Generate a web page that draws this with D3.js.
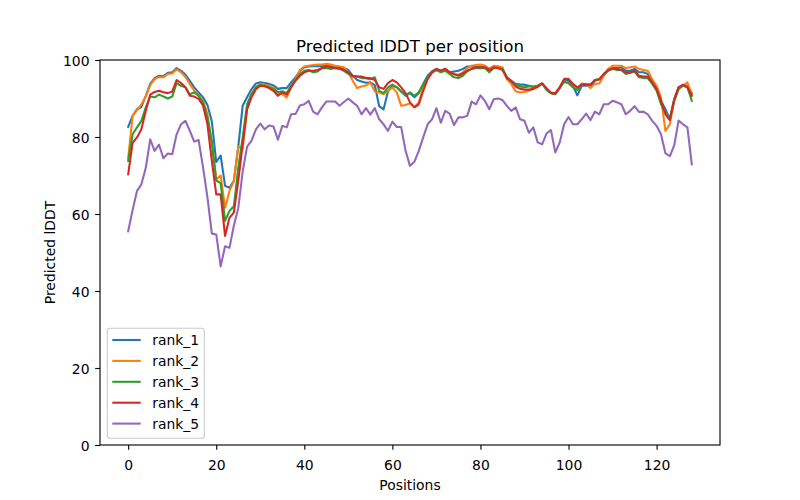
<!DOCTYPE html>
<html>
<head>
<meta charset="utf-8">
<script src="https://cdn.jsdelivr.net/npm/d3@7"></script>
<style>
  body { margin: 0; background: #fff; }
  svg { font-family: "DejaVu Sans", sans-serif; }
</style>
</head>
<body>
<svg width="800" height="500"></svg>
<script>
// predicted lDDT per residue, one array per model rank (positions 0..128)
var rank1 = [
  82.6, 85.5, 87.2, 87.8, 90.7, 93.8, 95.3, 95.9, 95.8, 96.7, 96.8, 97.9, 97.2, 96.2, 94.6,
  92.9, 91.6, 90.3, 88.3, 84.0, 73.5, 75.2, 67.3, 66.8, 68.6, 77.5, 88.1, 90.3, 92.4, 93.9, 94.2, 94.0,
  93.8, 93.4, 92.5, 92.7, 92.7, 94.2, 95.5, 97.2, 98.1, 98.3, 98.4, 98.4, 98.4, 98.5, 98.4, 98.3,
  98.1, 97.9, 97.4, 95.9, 94.8, 94.4, 94.1, 94.2, 93.5, 88.0, 87.2, 91.8, 93.3, 92.9, 91.8, 90.7, 91.4,
  90.3, 91.4, 93.8, 95.9, 97.1, 97.7, 97.2, 97.7, 96.8, 97.0, 97.2, 97.7, 98.3, 98.3, 98.5, 98.5,
  98.5, 97.7, 98.3, 98.3, 97.7, 95.5, 94.6, 93.8, 93.6, 93.6, 93.3, 93.0, 93.3, 93.9, 92.5, 91.4,
  91.1, 92.7, 94.8, 94.6, 93.3, 90.8, 93.3, 93.3, 93.3, 94.6, 95.0, 96.2, 97.4, 97.9, 97.9, 98.1,
  97.2, 97.2, 97.7, 96.8, 96.8, 96.4, 94.6, 92.9, 89.4, 87.2, 84.6, 89.8, 92.9, 93.3, 93.3, 91.4
];
var rank2 = [
  74.5, 85.5, 87.0, 88.5, 90.5, 93.5, 95.0, 95.6, 95.5, 96.4, 96.5, 97.6, 96.8, 95.6, 93.8,
  92.0, 90.7, 89.4, 86.0, 78.1, 69.0, 70.0, 61.6, 66.0, 68.6, 77.5, 77.0, 87.5, 91.0, 93.0, 93.8, 93.6,
  93.3, 92.9, 91.6, 91.1, 90.3, 92.9, 95.0, 97.4, 98.3, 98.5, 98.7, 98.8, 98.8, 99.0, 98.8, 98.5,
  98.3, 98.1, 96.8, 94.6, 92.7, 93.1, 93.4, 94.2, 91.8, 91.6, 91.1, 92.0, 92.9, 91.6, 88.1, 88.3, 88.8,
  87.8, 89.0, 92.9, 95.3, 96.8, 97.4, 97.2, 97.7, 96.8, 96.2, 96.2, 96.8, 97.9, 98.5, 98.7, 98.8,
  98.5, 97.7, 98.5, 98.3, 98.1, 95.0, 93.8, 91.8, 91.6, 91.7, 92.0, 92.5, 92.9, 93.9, 92.5, 91.6,
  91.2, 92.9, 94.4, 93.9, 92.9, 92.5, 93.9, 93.7, 92.7, 93.8, 93.9, 95.9, 97.7, 98.5, 98.5, 98.5,
  97.9, 98.1, 98.3, 97.7, 97.4, 97.2, 95.0, 93.3, 90.3, 81.6, 83.3, 89.4, 92.9, 93.3, 94.2, 91.1
];
var rank3 = [
  73.8, 80.7, 82.5, 84.2, 87.7, 90.5, 90.3, 91.0, 90.5, 90.0, 90.5, 94.0, 93.3, 92.9, 91.1,
  91.6, 90.7, 89.0, 85.0, 79.0, 68.7, 68.0, 58.2, 60.8, 62.0, 72.0, 79.9, 88.5, 91.1, 92.9, 93.6, 93.3,
  92.9, 92.5, 91.6, 91.9, 91.4, 93.3, 94.8, 96.4, 97.2, 97.4, 96.8, 97.0, 97.9, 97.9, 97.7, 97.9,
  97.7, 97.2, 96.4, 95.7, 95.7, 95.3, 95.3, 95.0, 95.5, 92.0, 91.4, 92.9, 93.6, 92.9, 91.8, 90.9, 91.6,
  90.7, 91.6, 93.6, 95.3, 96.8, 97.4, 96.8, 97.2, 96.4, 95.5, 95.3, 95.9, 97.1, 97.7, 97.9, 97.9,
  97.9, 96.8, 97.9, 97.9, 97.7, 95.5, 94.4, 93.6, 93.1, 92.9, 93.1, 93.1, 93.3, 93.9, 92.2, 91.4,
  91.1, 92.7, 94.3, 94.1, 92.9, 92.2, 93.6, 93.6, 93.6, 94.8, 95.0, 96.2, 97.2, 97.7, 97.4, 97.4,
  96.4, 96.6, 97.0, 95.5, 95.3, 95.3, 93.8, 92.0, 88.5, 86.4, 84.6, 89.4, 92.4, 93.3, 92.9, 89.4
];
var rank4 = [
  70.3, 78.5, 79.9, 82.0, 86.8, 91.0, 91.7, 92.0, 91.6, 91.4, 91.8, 94.8, 94.0, 92.9, 90.7,
  90.5, 89.9, 88.2, 83.3, 73.8, 65.1, 65.1, 54.3, 59.0, 60.4, 68.6, 78.1, 87.2, 90.3, 92.4, 93.3, 93.2,
  92.7, 92.0, 90.7, 91.6, 91.0, 92.9, 94.6, 95.9, 96.8, 97.2, 97.2, 97.4, 97.9, 98.3, 98.1, 97.9,
  97.9, 97.4, 96.8, 95.9, 95.7, 95.7, 95.3, 95.3, 94.8, 92.9, 92.5, 94.0, 94.8, 94.2, 92.9, 91.4, 89.0,
  87.7, 88.5, 92.0, 95.0, 96.8, 97.7, 97.2, 97.7, 96.8, 96.4, 95.9, 96.5, 97.2, 97.7, 98.1, 98.1,
  98.1, 97.4, 98.1, 97.9, 97.4, 95.3, 94.6, 93.1, 92.5, 92.3, 92.3, 92.5, 93.1, 93.9, 92.7, 91.4,
  91.4, 92.9, 95.1, 95.1, 93.8, 92.9, 93.6, 93.6, 93.6, 94.8, 95.0, 96.4, 97.4, 97.7, 97.7, 97.4,
  96.8, 96.8, 97.2, 95.9, 95.7, 95.7, 94.2, 92.5, 89.4, 85.9, 84.4, 89.8, 92.9, 93.6, 92.9, 90.7
];
var rank5 = [
  55.5, 61.0, 66.0, 67.7, 72.0, 79.4, 76.4, 78.0, 74.5, 75.7, 75.5, 80.7, 83.3, 84.2, 81.6,
  78.8, 79.2, 72.1, 64.3, 54.9, 54.7, 46.4, 51.6, 51.2, 57.0, 61.5, 71.0, 77.5, 79.0, 82.0, 83.5, 82.0,
  83.0, 82.7, 79.3, 82.9, 82.5, 85.9, 86.0, 88.2, 88.5, 89.4, 86.6, 85.9, 87.7, 89.2, 89.2, 89.2,
  88.1, 89.1, 90.0, 89.0, 88.1, 85.9, 87.5, 85.8, 87.5, 84.6, 83.3, 81.6, 84.0, 82.6, 82.6, 76.4, 72.5,
  73.6, 76.4, 79.9, 83.3, 84.6, 87.5, 83.7, 86.8, 86.1, 83.1, 85.1, 85.1, 85.5, 89.2, 88.5, 90.8,
  89.4, 87.2, 89.8, 90.0, 89.6, 88.1, 86.8, 87.7, 84.6, 84.2, 81.1, 82.5, 78.6, 78.1, 80.9, 81.8,
  76.0, 78.6, 83.3, 85.2, 83.3, 83.3, 84.6, 86.1, 84.4, 86.6, 85.9, 88.5, 88.5, 89.4, 89.0, 88.5,
  85.9, 86.8, 88.0, 86.5, 86.6, 85.9, 84.2, 82.9, 80.7, 75.8, 75.0, 77.8, 84.3, 83.3, 82.5, 72.9
];

var seriesNames = ["rank_1", "rank_2", "rank_3", "rank_4", "rank_5"];
var seriesValues = [rank1, rank2, rank3, rank4, rank5];
var seriesColors = ["#1f77b4", "#ff7f0e", "#2ca02c", "#d62728", "#9467bd"];
var xTicks = [0, 20, 40, 60, 80, 100, 120];
var yTicks = [0, 20, 40, 60, 80, 100];

function main() {
    var svg = d3.select("svg");
    var pLeft = 100, pRight = 720, pTop = 60, pBottom = 445;
    var n = rank1.length - 1;

    // matplotlib-style 5% x margin, y fixed 0..100
    var x = d3.scaleLinear().domain([-0.05 * n, 1.05 * n]).range([pLeft, pRight]);
    var y = d3.scaleLinear().domain([0, 100]).range([pBottom, pTop]);

    svg.append("defs").append("clipPath").attr("id", "plotclip")
        .append("rect")
        .attr("x", pLeft).attr("y", pTop)
        .attr("width", pRight - pLeft).attr("height", pBottom - pTop);

    var line = d3.line()
        .x(function(d, i) { return x(i); })
        .y(function(d) { return y(d); });

    var plot = svg.append("g").attr("clip-path", "url(#plotclip)");
    seriesValues.forEach(function(vals, k) {
        plot.append("path")
            .datum(vals)
            .attr("fill", "none")
            .attr("stroke", seriesColors[k])
            .attr("stroke-width", 2.08)
            .attr("stroke-linejoin", "round")
            .attr("stroke-linecap", "square")
            .attr("d", line);
    });

    // axes
    var xAxis = svg.append("g")
        .attr("transform", "translate(0," + pBottom + ")")
        .call(d3.axisBottom(x).tickValues(xTicks).tickSize(4.86).tickSizeOuter(0));
    xAxis.select(".domain").remove();
    xAxis.selectAll(".tick line").attr("stroke", "#000").attr("stroke-width", 1.11);
    xAxis.selectAll(".tick text")
        .attr("y", 24.5).attr("dy", null)
        .attr("font-size", "13.9px").attr("font-family", "DejaVu Sans").attr("fill", "#000");

    var yAxis = svg.append("g")
        .attr("transform", "translate(" + pLeft + ",0)")
        .call(d3.axisLeft(y).tickValues(yTicks).tickSize(4.86).tickPadding(5.6).tickSizeOuter(0));
    yAxis.select(".domain").remove();
    yAxis.selectAll(".tick line").attr("stroke", "#000").attr("stroke-width", 1.11);
    yAxis.selectAll(".tick text")
        .attr("dy", "0.36em")
        .attr("font-size", "13.9px").attr("font-family", "DejaVu Sans").attr("fill", "#000");

    // frame
    svg.append("rect")
        .attr("x", pLeft).attr("y", pTop)
        .attr("width", pRight - pLeft).attr("height", pBottom - pTop)
        .attr("fill", "none").attr("stroke", "#000").attr("stroke-width", 1.11);

    // labels
    svg.append("text")
        .attr("x", (pLeft + pRight) / 2).attr("y", 51.7)
        .attr("text-anchor", "middle")
        .attr("font-size", "16.67px")
        .text("Predicted lDDT per position");

    svg.append("text")
        .attr("x", (pLeft + pRight) / 2).attr("y", 490)
        .attr("text-anchor", "middle")
        .attr("font-size", "13.9px")
        .text("Positions");

    svg.append("text")
        .attr("transform", "translate(55," + ((pTop + pBottom) / 2) + ") rotate(-90)")
        .attr("text-anchor", "middle")
        .attr("font-size", "13.9px")
        .text("Predicted lDDT");

    // legend
    var legend = svg.append("g");
    legend.append("rect")
        .attr("x", 107.3).attr("y", 328.3)
        .attr("width", 97).attr("height", 110)
        .attr("rx", 2.8)
        .attr("fill", "#fff").attr("fill-opacity", 0.8)
        .attr("stroke", "#cccccc").attr("stroke-width", 1.11);

    seriesNames.forEach(function(name, k) {
        var ly = 340 + k * 20.9;
        legend.append("line")
            .attr("x1", 112.3).attr("x2", 140.7)
            .attr("y1", ly).attr("y2", ly)
            .attr("stroke", seriesColors[k]).attr("stroke-width", 2.08);
        legend.append("text")
            .attr("x", 152.3).attr("y", ly).attr("dy", "0.36em")
            .attr("font-size", "13.9px")
            .text(name);
    });
}
main();
</script>
</body>
</html>
